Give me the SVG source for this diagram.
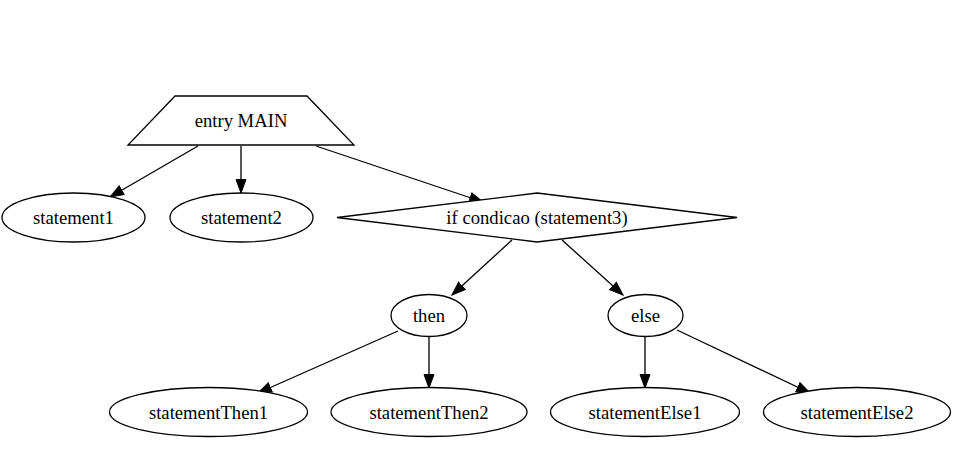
<svg xmlns="http://www.w3.org/2000/svg" width="957" height="466" viewBox="0 0 957 466">
<style>
.n{fill:#fff;stroke:#000;stroke-width:1.3}
.t{font-family:"Liberation Serif","Times New Roman",serif;font-size:18.67px;fill:#000;text-anchor:middle}
.e{stroke:#000;stroke-width:1.3;fill:none;marker-end:url(#ah)}
</style>
<defs>
<marker id="ah" markerUnits="userSpaceOnUse" markerWidth="16" markerHeight="12" refX="14" refY="5.5" orient="auto" viewBox="0 0 16 11">
<path d="M0.5,0.5 L14,5.5 L0.5,10.5 Z" fill="#000" stroke="#000" stroke-width="1"/>
</marker>
</defs>
<rect width="957" height="466" fill="#fff"/>
<g id="edges">
<path class="e" d="M198,146 L110,197"/>
<path class="e" d="M241,146 L241,193"/>
<path class="e" d="M316,146 L483,202"/>
<path class="e" d="M512,240 L452,295"/>
<path class="e" d="M562,240 L623,295"/>
<path class="e" d="M398,331 L258,393"/>
<path class="e" d="M429,337 L429,388"/>
<path class="e" d="M645,337 L645,388"/>
<path class="e" d="M677,330 L810,393"/>
</g>
<g id="entry"><polygon class="n" points="175,96 307,96 354,145 128,145"/><text class="t" x="241" y="127">entry MAIN</text></g>
<g id="statement1"><ellipse class="n" cx="73.5" cy="217.5" rx="71.5" ry="24.5"/><text class="t" x="73.5" y="224">statement1</text></g>
<g id="statement2"><ellipse class="n" cx="241.5" cy="217.5" rx="71.5" ry="24.5"/><text class="t" x="241.5" y="224">statement2</text></g>
<g id="if"><polygon class="n" points="537,193 737,217.5 537,242 337,217.5"/><text class="t" x="537" y="224">if condicao (statement3)</text></g>
<g id="then"><ellipse class="n" cx="429" cy="315.5" rx="38" ry="21"/><text class="t" x="429" y="322">then</text></g>
<g id="else"><ellipse class="n" cx="645.5" cy="315.5" rx="37.5" ry="21"/><text class="t" x="645.5" y="322">else</text></g>
<g id="statementThen1"><ellipse class="n" cx="208.5" cy="412" rx="99" ry="24.5"/><text class="t" x="208.5" y="418.5">statementThen1</text></g>
<g id="statementThen2"><ellipse class="n" cx="429" cy="412" rx="98" ry="24.5"/><text class="t" x="429" y="418.5">statementThen2</text></g>
<g id="statementElse1"><ellipse class="n" cx="645" cy="412" rx="94.5" ry="24.5"/><text class="t" x="645" y="418.5">statementElse1</text></g>
<g id="statementElse2"><ellipse class="n" cx="857" cy="412" rx="93.5" ry="24.5"/><text class="t" x="857" y="418.5">statementElse2</text></g>
</svg>
